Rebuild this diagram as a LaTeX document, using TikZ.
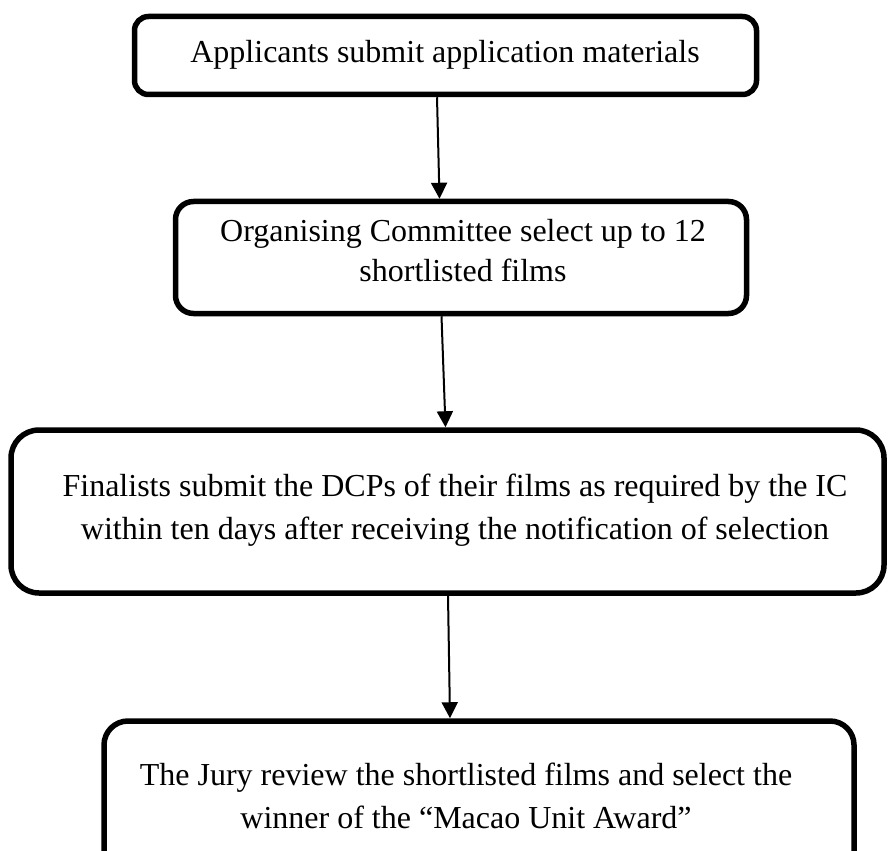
\documentclass[tikz,border=0pt]{standalone}
\usepackage{fontspec}
\setmainfont{Liberation Serif}
\usetikzlibrary{arrows.meta}
\begin{document}
\begin{tikzpicture}[x=1pt,y=-1pt,
  box/.style={draw,line width=5.5pt,inner sep=0pt,rectangle},
  label/.style={align=center,inner sep=0pt,font=\fontsize{32}{43}\selectfont},
  flow/.style={line width=2pt,-{Triangle[width=16pt,length=16pt]}}]
\useasboundingbox (0,0) rectangle (890,850);
\clip (0,0) rectangle (890,850);
\node[box,rounded corners=14pt,minimum width=622pt,minimum height=78pt] (b1) at (445.5,55.5) {};
\node[box,rounded corners=18pt,minimum width=571pt,minimum height=112pt] (b2) at (461,257.5) {};
\node[box,rounded corners=28pt,minimum width=873pt,minimum height=163pt] (b3) at (447.5,511.5) {};
\node[box,rounded corners=24pt,minimum width=750pt,minimum height=159pt] (b4) at (479,800.5) {};
\node[label] (t1) at (445,55) {Applicants submit application materials};
\node[label,font=\fontsize{32}{40}\selectfont] (t2) at (463,251) {Organising Committee select up to 12\\shortlisted films};
\node[label] (t3) at (455,510) {Finalists submit the DCPs of their films as required by the IC\\within ten days after receiving the notification of selection};
\node[label] (t4) at (466,796) {The Jury review the shortlisted films and select the\\winner of the ``Macao Unit Award''};
\coordinate (a1s) at ([xshift=-8.5pt]b1.south);
\coordinate (a1e) at ([xshift=-21.5pt]b2.north);
\coordinate (a2s) at ([xshift=-19.5pt]b2.south);
\coordinate (a2e) at ([xshift=-2pt]b3.north);
\coordinate (a3s) at ([xshift=0.5pt]b3.south);
\coordinate (a3e) at ([xshift=-29pt]b4.north);
\draw[flow] (a1s) -- (a1e);
\draw[flow] (a2s) -- (a2e);
\draw[flow] (a3s) -- (a3e);
\end{tikzpicture}
\end{document}
